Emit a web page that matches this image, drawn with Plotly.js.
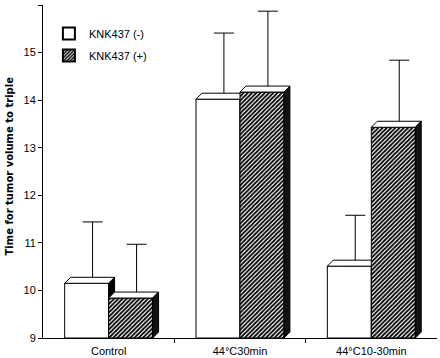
<!DOCTYPE html>
<html>
<head>
<meta charset="utf-8">
<script src="https://cdn.plot.ly/plotly-3.0.1.min.js"></script>
<style>html,body{margin:0;padding:0;background:#fff;}#chart{width:440px;height:358px;}</style>
</head>
<body>
<div id="chart"></div>
<script>
// ---- data ----
const categories = ['Control', '44°C30min', '44°C10-30min'];
const knkMinus = [10.15, 14.02, 10.51];
const knkPlus = [9.84, 14.17, 13.43];
const errMinus = [1.29, 1.39, 1.07];
const errPlus = [1.13, 1.70, 1.41];
const seriesNames = ['KNK437 (-)', 'KNK437 (+)'];
const yTickVals = [9, 10, 11, 12, 13, 14, 15, 16];
const yTitle = 'Time for tumor volume to triple';

// ---- style / geometry constants ----
const BASE = 9;
const W = 0.335;   // bar width (category units)
const DX = 0.045;  // 3D depth, x
const DY = 0.126;  // 3D depth, y
const FONT = 'Liberation Sans, Arial, sans-serif';
const hatch = {shape: '/', fgcolor: '#000', bgcolor: '#fff', size: 3, solidity: 0.6};

function faces(values, offset) {
  const fx = [], fy = [], tx = [], ty = [], sx = [], sy = [];
  values.forEach((v, i) => {
    const x0 = i + offset, x1 = x0 + W;
    fx.push(x0, x1, x1, x0, x0, null); fy.push(BASE, BASE, v, v, BASE, null);
    tx.push(x0, x1, x1 + DX, x0 + DX, x0, null); ty.push(v, v, v + DY, v + DY, v, null);
    sx.push(x1, x1 + DX, x1 + DX, x1, x1, null); sy.push(BASE, BASE + DY, v + DY, v, BASE, null);
  });
  return {fx, fy, tx, ty, sx, sy};
}

function errTrace(values, errs, offset) {
  return {
    type: 'scatter', mode: 'markers', showlegend: false, hoverinfo: 'skip',
    x: values.map((v, i) => i + offset + W / 2 + DX), y: values,
    marker: {size: 1, color: 'rgba(0,0,0,0)'},
    error_y: {type: 'data', symmetric: false, array: errs, arrayminus: errs.map(() => 0),
      color: '#000', thickness: 1, width: 10}
  };
}

function barTraces(values, offset, frontFill, sideColor) {
  const f = faces(values, offset);
  const line = {color: '#000', width: 1};
  const front = {type: 'scatter', mode: 'lines', x: f.fx, y: f.fy, fill: 'toself',
    fillcolor: '#fff', line, showlegend: false, hoverinfo: 'skip'};
  if (frontFill) front.fillpattern = frontFill;
  return [
    front,
    {type: 'scatter', mode: 'lines', x: f.tx, y: f.ty, fill: 'toself', fillcolor: '#fff',
      line, showlegend: false, hoverinfo: 'skip'},
    {type: 'scatter', mode: 'lines', x: f.sx, y: f.sy, fill: 'toself', fillcolor: sideColor,
      line, showlegend: false, hoverinfo: 'skip'}
  ];
}

const traces = [
  errTrace(knkMinus, errMinus, -W),
  errTrace(knkPlus, errPlus, 0),
  ...barTraces(knkMinus, -W, null, '#000'),
  ...barTraces(knkPlus, 0, hatch, '#111'),
  {type: 'bar', name: seriesNames[0], legendgroup: 'a', x: [null], y: [null],
    marker: {color: '#fff', line: {color: '#000', width: 1}}},
  {type: 'bar', name: seriesNames[1], legendgroup: 'b', x: [null], y: [null],
    marker: {color: '#fff', line: {color: '#000', width: 1}, pattern: {shape: '/', fgcolor: '#000', bgcolor: '#fff', size: 3, solidity: 0.6}}}
];

const layout = {
  width: 440, height: 358,
  margin: {l: 43, r: 3, t: 5, b: 20},
  paper_bgcolor: '#fff', plot_bgcolor: '#fff',
  font: {family: FONT, size: 11, color: '#000'},
  showlegend: true,
  legend: {x: 0.015, y: 0.958, xanchor: 'left', yanchor: 'top', bgcolor: 'rgba(0,0,0,0)',
    font: {family: FONT, size: 11}, tracegroupgap: 3, itemsizing: 'constant'},
  annotations: [{
    text: yTitle, xref: 'paper', yref: 'paper', x: 0, y: 0.5, xanchor: 'center', yanchor: 'middle',
    xshift: -34, yshift: 5, textangle: -90, showarrow: false,
    font: {family: 'DejaVu Sans, sans-serif', size: 10, weight: 'bold', color: '#000'}
  }],
  xaxis: {
    range: [-0.5, 2.5], tickmode: 'array', tickvals: [0, 1, 2], ticktext: categories,
    ticks: '', showline: true, linecolor: '#000', linewidth: 1, showgrid: false, zeroline: false,
    tickfont: {family: FONT, size: 11}, ticklabelstandoff: 3,
    minor: {tickmode: 'array', tickvals: [0.5, 1.5], ticks: 'outside', ticklen: 4, tickcolor: '#000', showgrid: false}
  },
  yaxis: {
    range: [9, 16], tickmode: 'array', tickvals: yTickVals,
    ticks: 'outside', ticklen: 4, tickcolor: '#000', showline: true, linecolor: '#000', linewidth: 1,
    showgrid: false, zeroline: false, tickfont: {family: FONT, size: 11}
  }
};

Plotly.newPlot('chart', traces, layout, {displayModeBar: false, staticPlot: true});
</script>
</body>
</html>
